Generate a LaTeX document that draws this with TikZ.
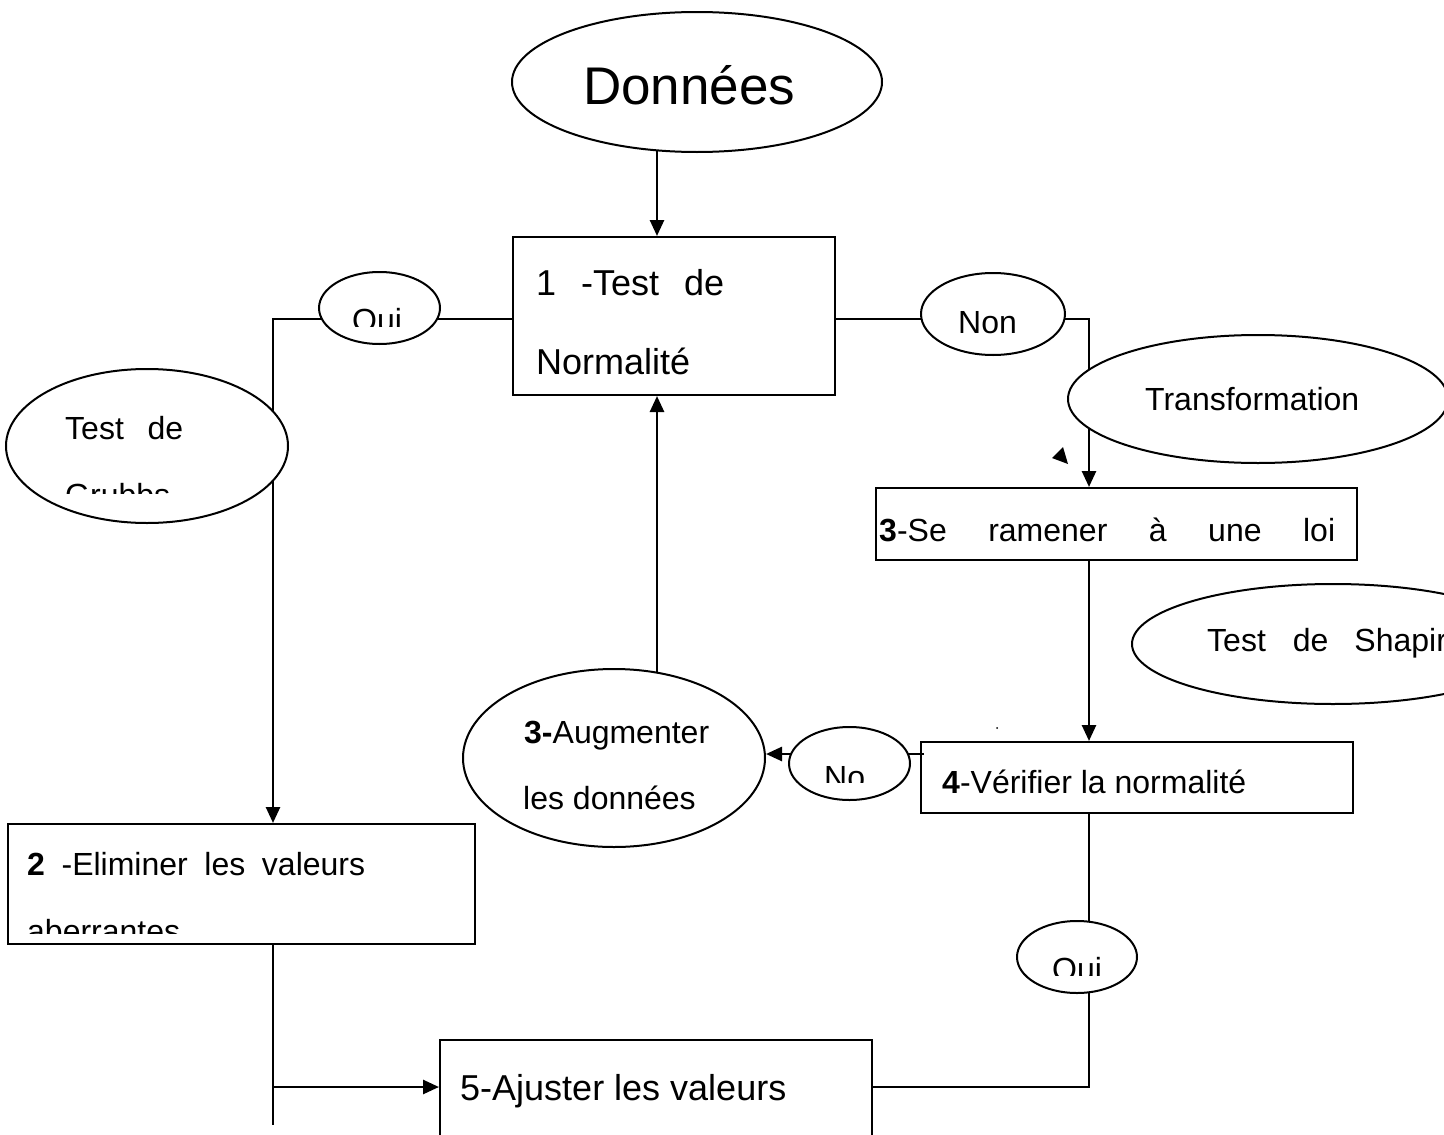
\documentclass[tikz,border=0pt]{standalone}
\usepackage{fontspec}
\setmainfont{Liberation Sans}
\usetikzlibrary{arrows.meta,shapes.geometric,backgrounds}

\tikzset{
  frame/.style={rectangle, draw, line width=2pt, inner sep=0pt},
  bubble/.style={ellipse, draw, fill=white, line width=2pt, inner sep=0pt},
  txt/.style={anchor=base west, inner sep=0pt, font=\fontsize{32}{38}\selectfont},
  bigtxt/.style={txt, font=\fontsize{36}{43}\selectfont},
  link/.style={draw, line width=2pt},
  arrow/.style={draw, line width=2.6pt, -{Triangle[length=16pt,width=14pt]}}
}

\begin{document}
\begin{tikzpicture}[x=1pt, y=-1pt]

\useasboundingbox (0,0) rectangle (1444,1135);
\clip (0,0) rectangle (1444,1135);

% boxes
\node [frame, minimum width=322pt, minimum height=158pt] (normtest) at (673.5,316) {};
\node [frame, minimum width=467pt, minimum height=120pt] (eliminer) at (241.5,884) {};
\node [frame, minimum width=481pt, minimum height=72pt] (ramener) at (1116.5,524) {};
\node [frame, minimum width=432pt, minimum height=71pt] (verifier) at (1137,777.5) {};
\node [frame, minimum width=432pt, minimum height=120pt] (ajuster) at (656,1100) {};

% bubbles
\node [bubble, minimum width=370pt, minimum height=140pt] (donnees) at (697,82) {};
\node [bubble, minimum width=121pt, minimum height=72pt] (ouiL) at (379.5,308) {};
\node [bubble, minimum width=144pt, minimum height=82pt] (nonR) at (993,314) {};
\node [bubble, minimum width=282pt, minimum height=154pt] (grubbs) at (147,446) {};
\node [bubble, minimum width=380pt, minimum height=128pt] (transfo) at (1258,399) {};
\node [bubble, minimum width=402pt, minimum height=120pt] (shapiro) at (1333,644) {};
\node [bubble, minimum width=302pt, minimum height=178pt] (augmenter) at (614,758) {};
\node [bubble, minimum width=121pt, minimum height=73pt] (noL) at (849.5,763.5) {};
\node [bubble, minimum width=120pt, minimum height=72pt] (ouiR) at (1077,957) {};

% connectors
\coordinate (colL) at (273,0);
\coordinate (colM) at (657,0);
\coordinate (colR) at (1089,0);
\coordinate (rowtop) at (0,319);
\coordinate (rowno) at (0,754);
\coordinate (rowbot) at (0,1087);
\coordinate (stub) at (273,1125);

\begin{scope}[on background layer]
\draw [arrow] (colM |- donnees.center) -- (colM |- normtest.north);
\draw [link] (normtest.west |- rowtop) -- (ouiL |- rowtop) -| (colL |- grubbs.center);
\draw [arrow] (colL |- grubbs.center) -- (colL |- eliminer.north);
\draw [link] (normtest.east |- rowtop) -- (nonR |- rowtop) -| (colR |- transfo.center);
\draw [arrow] (colR |- transfo.center) -- (colR |- ramener.north);
\draw [arrow] (colR |- ramener.south) -- (colR |- verifier.north);
\draw [arrow] ([xshift=4pt]verifier.west |- rowno) -- (augmenter.east |- rowno);
\draw [arrow] (colM |- augmenter.center) -- (colM |- normtest.south);
\draw [link] (colL |- eliminer.south) -- (stub);
\draw [arrow] (colL |- rowbot) -- (ajuster.west |- rowbot);
\draw [link] (ajuster.east |- rowbot) -| (colR |- verifier.south);
\end{scope}

% stray marks
\fill (1052,458) -- (1063,447) -- (1068,464) -- cycle;
\fill (997,728) circle (1);

% texts
\node [txt, font=\fontsize{53}{64}\selectfont] (donnees-t) at (583,104) {Données};
\node [bigtxt] (normtest-a) at (536,295) {\makebox[188pt][s]{1 -Test de}};
\node [bigtxt] (normtest-b) at (536,374) {Normalité};
\node [txt] (grubbs-a) at (65,439) {\makebox[118pt][s]{Test de}};
\node [txt] (eliminer-a) at (27,875) {\makebox[338pt][s]{\textbf{2} -Eliminer les valeurs}};
\node [txt] (ramener-a) at (879,541) {\makebox[456pt][s]{\textbf{3}-Se ramener à une loi}};
\node [txt] (verifier-a) at (942,793) {\textbf{4}-Vérifier la normalité};
\node [txt] (augmenter-a) at (524,743) {\textbf{3-}Augmenter};
\node [txt] (augmenter-b) at (523,809) {les données};
\node [bigtxt] (ajuster-a) at (460,1100) {5-Ajuster les valeurs};
\node [txt] (nonR-t) at (958,333) {Non};
\node [txt] (transfo-t) at (1145,410) {Transformation};
\node [txt] (shapiro-t) at (1207,651) {Test\hspace{27pt}de\hspace{26pt}Shapiro};

% cut texts
\begin{scope}
\clip (330,280) rectangle (430,326);
\node [txt] (ouiL-t) at (352,331) {Oui};
\end{scope}
\begin{scope}
\clip (40,460) rectangle (260,493);
\node [txt] (grubbs-b) at (65,506) {Grubbs};
\end{scope}
\begin{scope}
\clip (15,900) rectangle (300,933);
\node [txt] (eliminer-b) at (27,942) {aberrantes};
\end{scope}
\begin{scope}
\clip (800,740) rectangle (900,782);
\node [txt] (noL-t) at (824,788) {No};
\end{scope}
\begin{scope}
\clip (1030,930) rectangle (1130,975);
\node [txt] (ouiR-t) at (1052,980) {Oui};
\end{scope}

\end{tikzpicture}
\end{document}
